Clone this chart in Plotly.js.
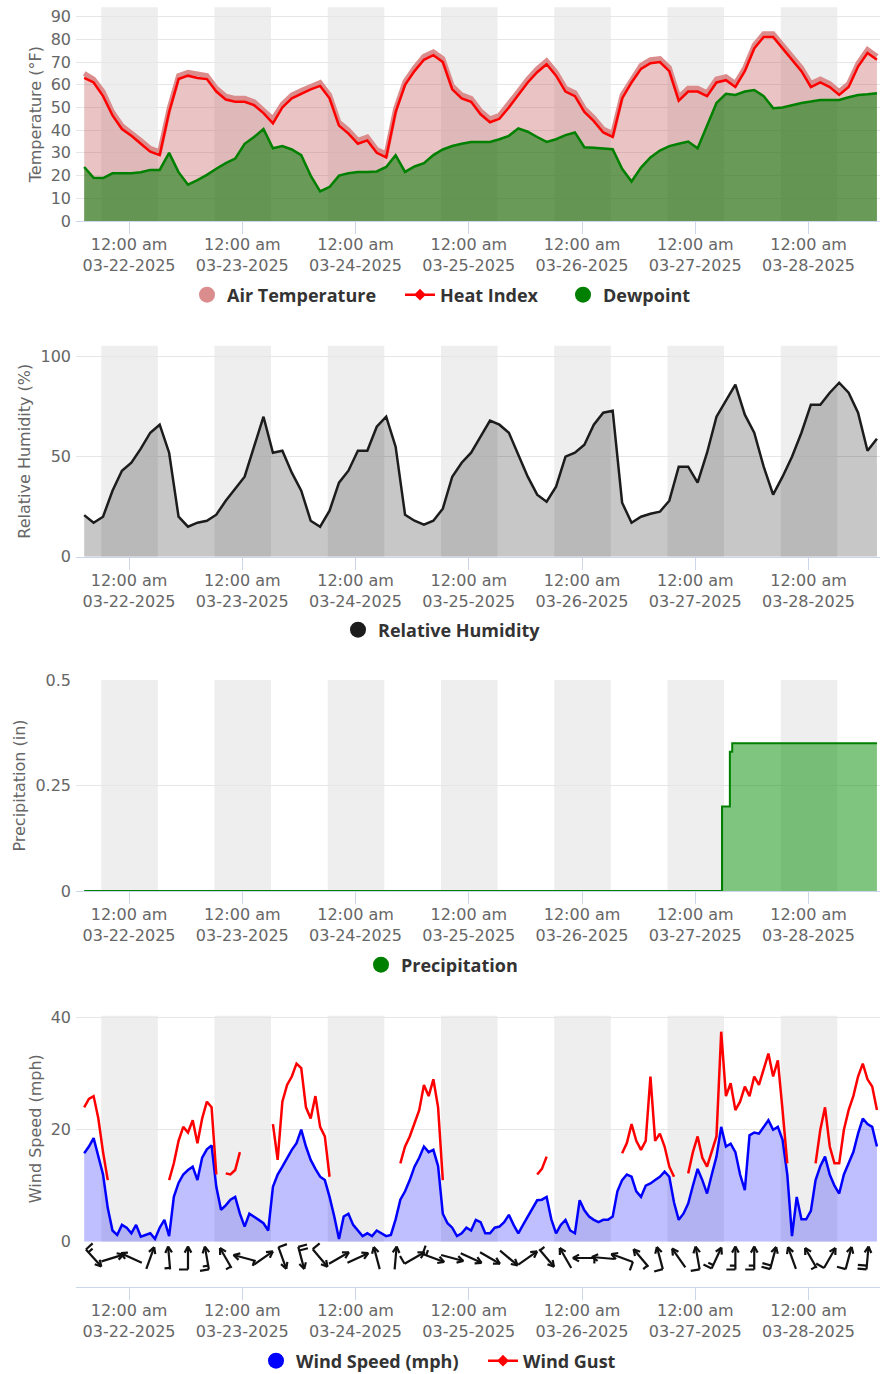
<!DOCTYPE html>
<html>
<head>
<meta charset="utf-8">
<script src="https://cdn.plot.ly/plotly-3.0.1.min.js"></script>
<style>
html,body{margin:0;padding:0;background:#fff;overflow:hidden;width:880px;height:1374px;}
#chart{position:absolute;left:0;top:0;width:880px;height:1374px;overflow:hidden;}
</style>
</head>
<body>
<div id="chart"></div>
<script>
// ---------------- DATA ----------------
const series2hStart = '2025-03-21 14:30';   // 2-hourly series start
const series1hStart = '2025-03-21 14:30';   // hourly series start

const airTemp = [65, 62.5, 57, 48, 42, 39, 35.5, 32, 30.5, 49.5,
  64, 65.5, 64.5, 64, 58.5, 55, 54, 54, 52.5, 49,
  45, 51.5, 55.5, 57.5, 59.5, 61, 55.5, 43.5, 40, 35.5,
  37, 31.5, 29.5, 49.5, 61.5, 67.5, 72.5, 74.5, 71.5, 59.5,
  55.5, 54, 48.5, 45, 46.5, 51.5, 57, 62.5, 67, 70.5,
  65.5, 58.5, 56.5, 49.5, 45.5, 40.5, 38.5, 55.5, 62.5, 68.5,
  71, 71.5, 67.5, 54.5, 58.5, 58.5, 56.5, 62.5, 63.5, 60.5,
  67.5, 77.5, 82.5, 82.5, 77.5, 72.5, 67.5, 60.5, 62.5, 60.5,
  57, 60.5, 69.5, 75.5, 72.5];

const heatIndex = [63, 61, 55, 46.5, 40.5, 37.5, 34, 30.5, 29, 48,
  62.5, 64, 63, 62.5, 57, 53.5, 52.5, 52.5, 51, 47.5,
  43, 50, 54, 56, 58, 59.5, 54, 42, 38.5, 34,
  35.5, 30, 28, 48, 60, 66, 71, 73, 70, 58,
  54, 52.5, 47, 43.5, 45, 50, 55.5, 61, 65.5, 69,
  64, 57, 55, 48, 44, 39, 37, 54, 61, 67,
  69.5, 70, 66, 53, 57, 57, 55, 61, 62, 59,
  66, 76, 81, 81, 76, 71, 66, 59, 61, 59,
  55.5, 59, 68, 74, 71];

const dewpoint = [23.8, 19, 18.9, 21, 21, 21, 21.5, 22.5, 22.5, 30,
  21.5, 16, 18, 20.3, 23, 25.5, 27.5, 34, 37, 40.5,
  32, 33, 31.5, 29, 20, 13, 15, 20, 21, 21.6,
  21.6, 21.8, 23.8, 29, 21.6, 24, 25.5, 29, 31.5, 33,
  34, 34.8, 34.8, 34.8, 36, 37.5, 40.8, 39.3, 37, 34.8,
  36, 37.8, 39, 32.5, 32.3, 32, 31.6, 23, 17.4, 23.5,
  28, 31, 33, 34, 35, 32, 42, 52, 56, 55.5,
  57, 57.7, 55, 49.7, 50, 51, 52, 52.6, 53.3, 53.3,
  53.3, 54.5, 55.5, 55.8, 56.3];

const humidity = [20.8, 17, 20, 33, 43, 47, 54, 62, 66, 52,
  20, 15, 17, 18, 21, 28, 34, 40, 55, 70,
  52, 53, 42, 33, 18, 15, 23, 37, 43, 53,
  53, 65, 70, 55, 21, 18, 16, 18, 24, 40,
  47, 52, 60, 68, 66, 62, 51, 40, 31, 27.5,
  35, 50, 52, 56, 66, 72, 73, 27, 17, 20,
  21.5, 22.5, 28, 45, 45, 37, 52, 70, 78, 86,
  71, 62, 45, 31, 40, 50, 62, 76, 76, 82,
  87, 82, 72, 53, 59];

const precipTimes = ['2025-03-21 14:30', '2025-03-27 05:40', '2025-03-27 07:20', '2025-03-27 07:50', '2025-03-28 14:30'];
const precipValues = [0, 0.2, 0.33, 0.35, 0.35];

const windSpeed = [15.8, 17, 18.5, 15, 12, 6, 2, 1.2, 3, 2.5,
  1.5, 3, 0.9, 1.2, 1.5, 0.5, 2.5, 3.9, 1, 8,
  10.5, 12, 12.8, 13.4, 11, 15, 16.5, 17.2, 9.8, 5.7,
  6.5, 7.5, 8, 5, 2.7, 5, 4.5, 3.9, 3.3, 2,
  9.8, 12, 13.4, 15, 16.4, 17.6, 20, 17, 14.6, 13,
  11.6, 11, 8, 4.5, 0.5, 4.5, 5, 3, 2, 1,
  1.5, 1, 2, 1.5, 1, 1.2, 4, 7.5, 9, 11,
  13.4, 15, 17, 16, 16.4, 13.5, 5, 3.3, 2.5, 1,
  1.5, 2.5, 2, 3.9, 3.5, 1.5, 1.5, 2.5, 2.7, 3.5,
  4.8, 3, 1.5, 3, 4.5, 6, 7.4, 7.5, 8, 4,
  1.5, 3, 3.9, 2, 1.5, 7.4, 5.6, 4.5, 3.9, 3.5,
  3.9, 3.9, 4.5, 9, 11, 12, 11.6, 9, 8, 10,
  10.4, 11, 11.6, 12.5, 11.6, 7, 3.9, 5, 6.8, 10,
  13, 11, 8.6, 12, 15.2, 20.5, 17, 17.5, 16, 12,
  9.2, 19, 19.5, 19.3, 20.5, 21.7, 20, 20.5, 18.2, 12,
  1, 8, 4, 4, 5.5, 11, 13.5, 15.2, 12, 10,
  8.6, 12, 14, 16, 19.3, 22, 21, 20.5, 17];

const windGust = [24, 25.5, 26, 22, 16, 11, null, null, null, null,
  null, null, null, null, null, null, null, null, 11, 14,
  18, 20.5, 19.5, 21.7, 17.6, 22, 25, 24, 12, null,
  12.2, 12, 12.8, 16, null, null, null, null, null, null,
  21, 14.6, 25, 28, 29.5, 31.8, 31, 24, 22, 26,
  20.5, 18.8, 11.6, null, null, null, null, null, null, null,
  null, null, null, null, null, null, null, 14, 17, 18.8,
  21, 23.5, 28, 26, 29, 24, 11, null, null, null,
  null, null, null, null, null, null, null, null, null, null,
  null, null, null, null, null, null, 12, 13, 15.2, null,
  null, null, null, null, null, null, null, null, null, null,
  null, null, null, null, 15.8, 17.6, 21, 18, 16.4, 18,
  29.5, 18, 19.3, 17, 13.4, 11.6, null, null, 12.2, 16,
  18.8, 15, 13.4, 16, 18.8, 37.5, 26, 28.3, 23.5, 25,
  27.7, 26, 29.5, 28, 31, 33.6, 29.5, 32.4, 23.5, 14,
  null, null, null, null, null, 14, 20, 24, 17, 14,
  14, 20, 23.5, 26, 29.5, 31.8, 29, 27.7, 23.5];

// wind barbs: one every 4 hours
const barbStart = '2025-03-21 16:30';
const barbStepHours = 4;
const barbDir = [318, 253, 115, 200, 175, 180, 170, 150, 105, 235,
  340, 345, 320, 240, 245, 165, 185, 240, 290, 285,
  295, 300, 310, 235, 320, 150, 90, 95, 110, 140,
  165, 145, 170, 205, 180, 180, 195, 160, 150, 210,
  195, 185];
const barbSpeed = [18, 2, 1.5, 1.5, 5, 12.8, 16.5, 6.5, 5, 3.3,
  13.4, 20, 11.6, 0.5, 2, 2, 4, 13.4, 16.4, 2.5,
  2, 1.5, 4.8, 4.5, 8, 3.9, 5.6, 3.9, 11, 8,
  11.6, 3.9, 13, 15.2, 16, 19.5, 20, 1, 5.5, 12,
  14, 21];

// night shading
const nightStart = ['2025-03-21 18:07', '2025-03-22 18:07', '2025-03-23 18:07', '2025-03-24 18:07', '2025-03-25 18:07', '2025-03-26 18:07', '2025-03-27 18:07'];
const nightEnd = ['2025-03-22 06:06', '2025-03-23 06:06', '2025-03-24 06:06', '2025-03-25 06:06', '2025-03-26 06:06', '2025-03-27 06:06', '2025-03-28 06:06'];

// x ticks
const tickDates = ['2025-03-22 00:00', '2025-03-23 00:00', '2025-03-24 00:00', '2025-03-25 00:00', '2025-03-26 00:00', '2025-03-27 00:00', '2025-03-28 00:00'];
const tickTime = '12:00 am';
const tickDay = ['03-22-2025', '03-23-2025', '03-24-2025', '03-25-2025', '03-26-2025', '03-27-2025', '03-28-2025'];
const xRange = ['2025-03-21 12:46', '2025-03-28 15:09'];

// ---------------- LAYOUT HELPERS ----------------
const W = 880, H = 1374, ML = 76, MR = 0;
const PW = W - ML - MR;
const pxX = px => (px - ML) / PW;
const pxY = py => (H - py) / H;
const dom = (top, bottom) => [pxY(bottom), pxY(top)];
const toMs = s => Date.parse(s.replace(' ', 'T') + ':00Z');
const fmt = ms => new Date(ms).toISOString().slice(0, 16).replace('T', ' ');
const grid = (start, stepH, n) => { const s = toMs(start); return Array.from({length: n}, (_, i) => fmt(s + i * stepH * 3600e3)); };

const t2h = grid(series2hStart, 2, airTemp.length);
const t1h = grid(series1hStart, 1, windSpeed.length);

// barb geometry (pixel units converted through axis scales)
const BARB_TOP = 1241.7, BARB_BOTTOM = 1287;
const barbH = BARB_BOTTOM - BARB_TOP;
function buildBarbs() {
  const bx = [], by = [];
  const msPerPx = (toMs(xRange[1]) - toMs(xRange[0])) / PW;
  const L = 23, cy = BARB_BOTTOM - 1258;
  const t0 = toMs(barbStart);
  barbDir.forEach((dir, i) => {
    const tc = t0 + i * barbStepHours * 3600e3;
    const h = (dir + 180) * Math.PI / 180;
    const d = [Math.sin(h), -Math.cos(h)];
    const p = [d[1], -d[0]];
    const seg = (a, b) => { bx.push(tc + a[0] * msPerPx, tc + b[0] * msPerPx, null); by.push(cy - a[1], cy - b[1], null); };
    const head = [d[0] * L / 2, d[1] * L / 2], tail = [-d[0] * L / 2, -d[1] * L / 2];
    seg(tail, head);
    [0.5, -0.5].forEach(a => {
      const b0 = -d[0], b1 = -d[1];
      const r = [b0 * Math.cos(a) - b1 * Math.sin(a), b0 * Math.sin(a) + b1 * Math.cos(a)];
      seg(head, [head[0] + r[0] * 7, head[1] + r[1] * 7]);
    });
    const spd = barbSpeed[i];
    const full = Math.floor(spd / 10), half = Math.floor((spd % 10) / 5);
    let k = 0;
    for (; k < full; k++) {
      const b = [tail[0] + d[0] * k * 3.8, tail[1] + d[1] * k * 3.8];
      seg(b, [b[0] + p[0] * 9, b[1] + p[1] * 9]);
    }
    if (half) {
      const off = full === 0 ? 1.5 : k * 3.8;
      const b = [tail[0] + d[0] * off, tail[1] + d[1] * off];
      seg(b, [b[0] + p[0] * 5.5, b[1] + p[1] * 5.5]);
    }
  });
  return {bx, by};
}
const barbs = buildBarbs();

// ---------------- TRACES ----------------
const AIR = 'rgb(219,140,140)';
const traces = [
  {x: t2h, y: airTemp, xaxis: 'x', yaxis: 'y', mode: 'lines', name: 'Air Temperature', showlegend: false,
   line: {color: AIR, width: 5}, fill: 'tozeroy', fillcolor: 'rgba(200,100,100,0.38)', hoverinfo: 'skip'},
  {x: t2h, y: heatIndex, xaxis: 'x', yaxis: 'y', mode: 'lines', name: 'Heat Index', showlegend: false,
   line: {color: '#ff0000', width: 2.5}},
  {x: t2h, y: dewpoint, xaxis: 'x', yaxis: 'y', mode: 'lines', name: 'Dewpoint', showlegend: false,
   line: {color: '#008000', width: 2.5}, fill: 'tozeroy', fillcolor: 'rgba(0,120,0,0.55)'},
  {x: t2h, y: humidity, xaxis: 'x2', yaxis: 'y2', mode: 'lines', name: 'Relative Humidity', showlegend: false,
   line: {color: '#1c1c1c', width: 2.5}, fill: 'tozeroy', fillcolor: 'rgba(0,0,0,0.22)'},
  {x: precipTimes, y: precipValues, xaxis: 'x3', yaxis: 'y3', mode: 'lines', name: 'Precipitation', showlegend: false,
   line: {color: '#008000', width: 2, shape: 'hv'}, fill: 'tozeroy', fillcolor: 'rgba(0,140,0,0.5)'},
  {x: t1h, y: windSpeed, xaxis: 'x4', yaxis: 'y4', mode: 'lines', name: 'Wind Speed (mph)', showlegend: false,
   line: {color: '#0000ff', width: 2.5}, fill: 'tozeroy', fillcolor: 'rgba(0,0,255,0.25)'},
  {x: t1h, y: windGust, xaxis: 'x4', yaxis: 'y4', mode: 'lines', name: 'Wind Gust', showlegend: false,
   line: {color: '#ff0000', width: 2.5}, connectgaps: false},
  {x: barbs.bx, y: barbs.by, xaxis: 'x4', yaxis: 'y5', mode: 'lines', name: 'Wind Direction', showlegend: false,
   line: {color: '#111111', width: 2.2}, hoverinfo: 'skip'},
  // legend entries
  {x: [null], y: [null], xaxis: 'x', yaxis: 'y', mode: 'markers', name: 'Air Temperature', legend: 'legend',
   marker: {symbol: 'circle', size: 16, color: AIR}},
  {x: [null], y: [null], xaxis: 'x', yaxis: 'y', mode: 'lines+markers', name: 'Heat Index', legend: 'legend2',
   line: {color: '#ff0000', width: 2.5}, marker: {symbol: 'diamond', size: 9, color: '#ff0000'}},
  {x: [null], y: [null], xaxis: 'x', yaxis: 'y', mode: 'markers', name: 'Dewpoint', legend: 'legend3',
   marker: {symbol: 'circle', size: 16, color: '#008000'}},
  {x: [null], y: [null], xaxis: 'x2', yaxis: 'y2', mode: 'markers', name: 'Relative Humidity', legend: 'legend4',
   marker: {symbol: 'circle', size: 16, color: '#1c1c1c'}},
  {x: [null], y: [null], xaxis: 'x3', yaxis: 'y3', mode: 'markers', name: 'Precipitation', legend: 'legend5',
   marker: {symbol: 'circle', size: 16, color: '#008000'}},
  {x: [null], y: [null], xaxis: 'x4', yaxis: 'y4', mode: 'markers', name: 'Wind Speed (mph)', legend: 'legend6',
   marker: {symbol: 'circle', size: 16, color: '#0000ff'}},
  {x: [null], y: [null], xaxis: 'x4', yaxis: 'y4', mode: 'lines+markers', name: 'Wind Gust', legend: 'legend7',
   line: {color: '#ff0000', width: 2.5}, marker: {symbol: 'diamond', size: 9, color: '#ff0000'}}
];

// ---------------- AXES ----------------
const tickFont = {family: 'DejaVu Sans', size: 16, color: '#666666'};
const xCommon = {
  type: 'date', range: xRange, tickmode: 'array', tickvals: tickDates,
  ticktext: tickDay.map(d => tickTime + '<br>' + d),
  showgrid: false, showline: true, linecolor: '#ccd6eb', linewidth: 1,
  ticks: 'outside', ticklen: 12, tickcolor: '#ccd6eb', tickwidth: 1, ticklabelstandoff: -3,
  tickfont: tickFont, zeroline: false, fixedrange: true, automargin: false
};
const yCommon = {
  showgrid: true, gridcolor: '#e6e6e6', gridwidth: 1, zeroline: false, showline: false,
  ticks: '', tickfont: tickFont, tickmode: 'array', ticklabelstandoff: 4,
  fixedrange: true, automargin: false
};
const yTitle = t => ({text: t, font: {family: 'DejaVu Sans', size: 16, color: '#666666'}, standoff: 5});

const shapes = [];
const bandRefs = [['x', 'y domain'], ['x2', 'y2 domain'], ['x3', 'y3 domain'], ['x4', 'y4 domain']];
bandRefs.forEach(([xr, yr]) => {
  nightStart.forEach((s, i) => {
    shapes.push({type: 'rect', xref: xr, yref: yr, x0: s, x1: nightEnd[i], y0: 0, y1: 1,
      fillcolor: '#eeeeee', line: {width: 0}, layer: 'below'});
  });
});

const legendAt = (symCx, cy) => ({
  x: pxX(symCx - 20), xanchor: 'left', y: pxY(cy), yanchor: 'middle', orientation: 'h',
  bgcolor: 'rgba(0,0,0,0)', borderwidth: 0,
  font: {family: 'Open Sans', size: 18, color: '#333333', weight: 700},
  itemclick: false, itemdoubleclick: false
});

const layout = {
  width: W, height: H,
  margin: {l: ML, r: MR, t: 0, b: 0, pad: 0, autoexpand: false},
  paper_bgcolor: '#ffffff', plot_bgcolor: '#ffffff',
  showlegend: true,
  xaxis: Object.assign({}, xCommon, {anchor: 'y'}),
  xaxis2: Object.assign({}, xCommon, {anchor: 'y2'}),
  xaxis3: Object.assign({}, xCommon, {anchor: 'y3'}),
  xaxis4: Object.assign({}, xCommon, {anchor: 'y5'}),
  yaxis: Object.assign({}, yCommon, {anchor: 'x', domain: dom(7.3, 221), range: [0, 94.1],
    tickvals: [0, 10, 20, 30, 40, 50, 60, 70, 80, 90], title: yTitle('Temperature (°F)')}),
  yaxis2: Object.assign({}, yCommon, {anchor: 'x2', domain: dom(345.7, 556.7), range: [0, 105.5],
    tickvals: [0, 50, 100], title: yTitle('Relative Humidity (%)')}),
  yaxis3: Object.assign({}, yCommon, {anchor: 'x3', domain: dom(680, 891), range: [0, 0.5],
    tickvals: [0, 0.25, 0.5], ticktext: ['0', '0.25', '0.5'], title: yTitle('Precipitation (in)')}),
  yaxis4: Object.assign({}, yCommon, {anchor: 'x4', domain: dom(1015.7, BARB_TOP), range: [0, 40.36],
    tickvals: [0, 20, 40], title: yTitle('Wind Speed (mph)')}),
  yaxis5: {anchor: 'x4', domain: dom(BARB_TOP, BARB_BOTTOM), range: [0, barbH], visible: false, fixedrange: true},
  shapes: shapes,
  legend: legendAt(207, 295),
  legend2: legendAt(420, 295),
  legend3: legendAt(583, 295),
  legend4: legendAt(358, 630),
  legend5: legendAt(381, 965),
  legend6: legendAt(276, 1361),
  legend7: legendAt(503, 1361)
};

Plotly.newPlot('chart', traces, layout, {displayModeBar: false, staticPlot: true});
</script>
</body>
</html>
